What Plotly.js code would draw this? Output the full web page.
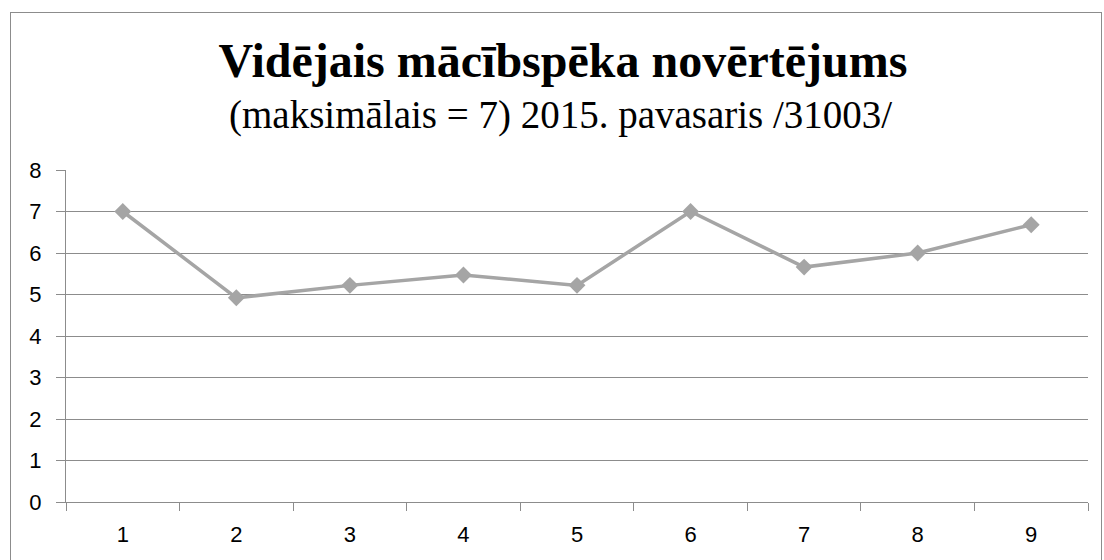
<!DOCTYPE html>
<html><head><meta charset="utf-8">
<script src="https://cdn.plot.ly/plotly-3.0.1.min.js"></script>
<style>
html,body{margin:0;padding:0;background:#fff;}
#frame{position:absolute;left:10px;top:12px;width:1092px;height:600px;border:1px solid #8c8c8c;box-sizing:border-box;}
#chart{position:absolute;left:0;top:0;width:1104px;height:560px;}
</style></head>
<body>
<div id="frame"></div>
<div id="chart"></div>
<script>
const categories = ['1','2','3','4','5','6','7','8','9'];
const values = [7.0, 4.92, 5.22, 5.47, 5.22, 7.0, 5.66, 6.0, 6.68];
const yTicks = [0,1,2,3,4,5,6,7,8];
const titleText = 'Vidējais mācībspēka novērtējums';
const subtitleText = '(maksimālais = 7) 2015. pavasaris /31003/';

const trace = {
  x: categories, y: values, type: 'scatter', mode: 'lines+markers',
  line: {color: '#a5a5a5', width: 3.5},
  marker: {symbol: 'diamond', size: 13, color: '#a5a5a5'},
  hoverinfo: 'x+y'
};
const layout = {
  width: 1104, height: 560,
  margin: {l: 66, r: 16, t: 170, b: 58},
  paper_bgcolor: 'rgba(0,0,0,0)', plot_bgcolor: 'rgba(0,0,0,0)',
  showlegend: false,
  title: {
    text: '<b>' + titleText + '</b>',
    font: {family: 'Liberation Serif, Times New Roman, serif', size: 48, color: '#000'},
    xref: 'container', x: 563/1104, xanchor: 'center', yref: 'container', y: 1 - 60/560, yanchor: 'middle'
  },
  annotations: [{
    text: subtitleText, xref: 'paper', yref: 'paper', x: (560 - 66) / 1022, y: (502 - 115) / 332,
    xanchor: 'center', yanchor: 'middle', showarrow: false,
    font: {family: 'Liberation Serif, Times New Roman, serif', size: 39, color: '#000'}
  }],
  xaxis: {
    type: 'category', tickson: 'boundaries', range: [-0.5, 8.5],
    ticks: 'outside', ticklen: 8, tickcolor: '#8c8c8c', tickwidth: 1,
    showline: true, linecolor: '#8c8c8c', linewidth: 1,
    showgrid: false, zeroline: false,
    tickfont: {family: 'Liberation Sans, Arial, sans-serif', size: 22, color: '#000'},
    ticklabelstandoff: 13
  },
  yaxis: {
    range: [0, 8], tickvals: yTicks, ticktext: yTicks.map(String),
    ticks: 'outside', ticklen: 9, tickcolor: '#8c8c8c',
    showline: true, linecolor: '#8c8c8c', linewidth: 1,
    showgrid: true, gridcolor: '#8c8c8c', gridwidth: 1, zeroline: false,
    tickfont: {family: 'Liberation Sans, Arial, sans-serif', size: 22, color: '#000'},
    ticklabelstandoff: 10
  }
};
Plotly.newPlot('chart', [trace], layout, {displayModeBar: false, staticPlot: true});
</script>
</body></html>
